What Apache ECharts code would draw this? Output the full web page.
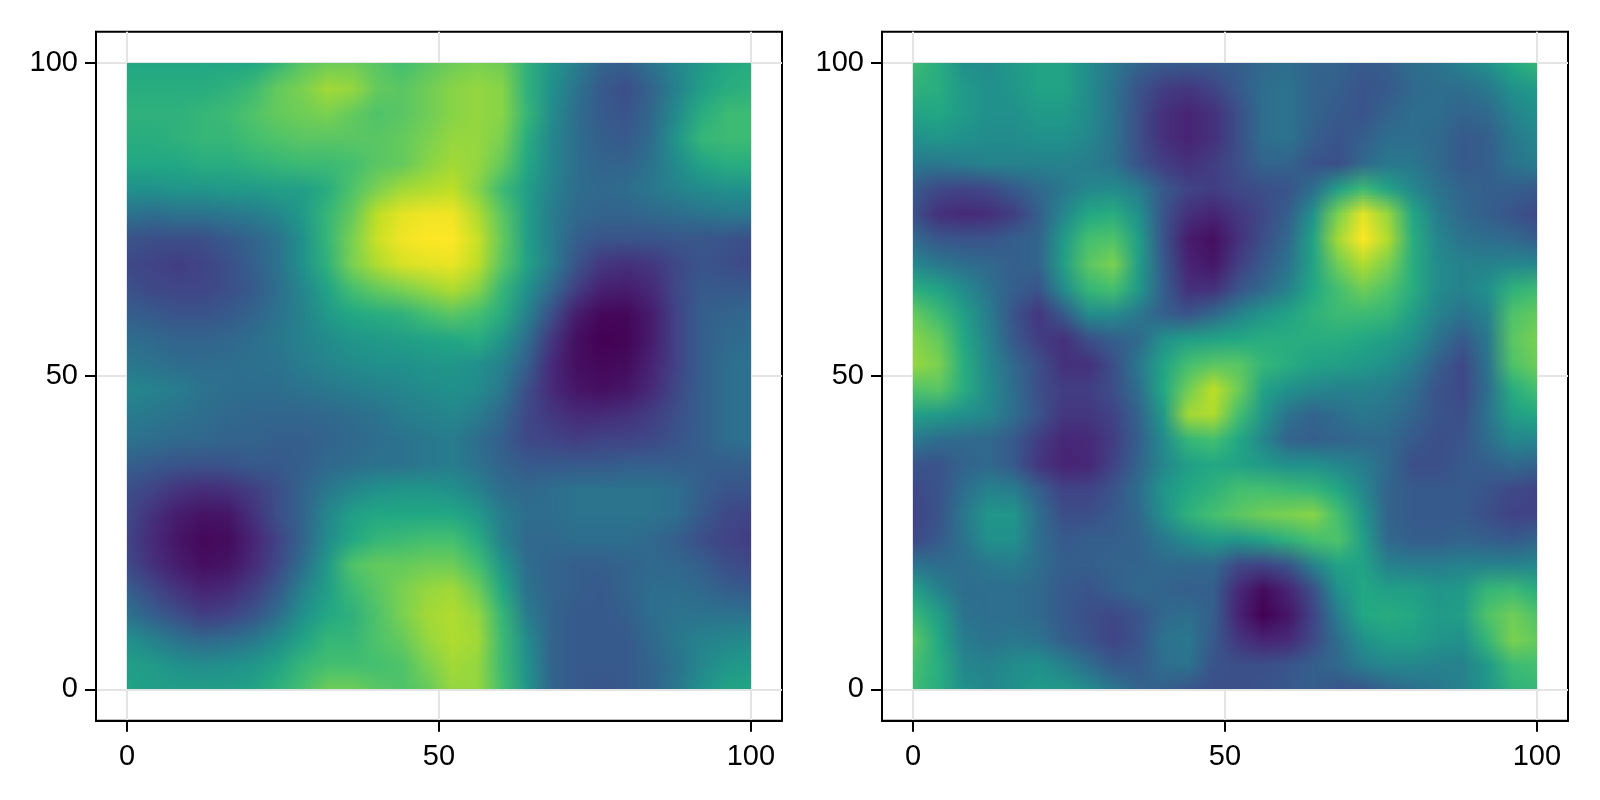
<!DOCTYPE html>
<html><head><meta charset="utf-8">
<style>html,body{margin:0;padding:0;background:#fff}#c{width:1600px;height:800px}</style>
<script src="https://cdn.jsdelivr.net/npm/echarts@6/dist/echarts.min.js"></script>
</head><body><div id="c"></div>
<script>
const xVals=[0,4,8,12,16,20,24,28,32,36,40,44,48,52,56,60,64,68,72,76,80,84,88,92,96,100];
const yVals=[100,96,92,88,84,80,76,72,68,64,60,56,52,48,44,40,36,32,28,24,20,16,12,8,4,0];
const tickValues=[0,50,100];
const viridis=['#440154','#482475','#414487','#355f8d','#2a788e','#21918c','#22a884','#44bf70','#7ad151','#bddf26','#fde725'];
const leftRows=[
[60,60,60,60,60,60,66,74,78,78,74,70,74,78,80,78,64,52,42,32,30,38,46,54,60,62],
[62,62,62,62,64,68,76,80,86,84,76,74,78,82,84,82,64,50,38,28,24,32,44,56,62,64],
[64,64,64,66,68,72,76,78,80,76,72,74,78,82,84,82,66,48,36,28,26,34,48,62,68,68],
[62,62,64,66,66,70,72,74,74,74,74,76,80,84,84,80,62,46,36,30,28,36,52,66,68,68],
[60,60,60,62,62,64,66,68,68,70,74,76,82,86,84,76,60,46,36,32,32,38,48,58,62,62],
[50,50,52,52,54,54,56,56,62,72,80,86,88,90,82,68,56,44,36,34,36,40,44,48,50,50],
[38,36,38,38,40,42,46,54,66,76,90,96,98,98,88,74,56,42,34,32,32,34,36,38,40,40],
[26,24,24,24,28,32,38,50,66,80,92,98,100,100,92,76,56,42,30,26,26,26,27,27,26,24],
[22,20,18,20,24,30,38,50,64,80,88,94,96,97,90,74,58,42,26,16,14,16,22,26,24,22],
[25,22,21,21,24,28,36,46,58,70,76,80,84,88,82,66,50,34,18,9,8,12,22,28,28,28],
[30,28,26,26,28,32,38,44,54,60,62,64,70,74,70,62,44,24,8,2,2,8,20,30,32,34],
[36,34,32,32,33,36,40,44,48,52,54,56,58,60,62,52,36,16,4,0,1,8,20,30,34,36],
[40,38,36,35,36,37,38,42,45,48,50,50,52,52,50,44,30,12,4,2,3,10,20,30,36,38],
[46,44,42,38,36,36,36,38,40,42,44,46,48,50,48,40,24,12,6,4,6,12,22,30,36,38],
[42,40,38,36,34,33,33,33,34,36,38,42,44,46,42,34,22,16,12,12,14,18,24,30,36,38],
[38,36,34,34,32,32,30,30,32,34,36,38,40,42,36,30,22,20,18,20,20,22,26,30,36,38],
[30,28,26,25,26,28,28,30,34,36,38,38,40,42,38,32,28,28,28,28,30,30,30,30,30,30],
[24,20,15,13,14,18,24,32,40,46,50,52,52,50,44,36,34,36,38,38,38,38,36,30,26,26],
[22,14,8,5,6,14,24,32,46,56,60,60,60,60,54,42,36,36,38,38,38,38,36,28,22,20],
[20,12,6,2,3,10,20,32,48,60,66,68,70,70,62,44,34,34,36,36,36,34,30,24,20,18],
[22,14,8,4,5,12,22,36,54,72,76,76,78,78,70,52,36,32,30,30,32,34,33,30,24,22],
[30,22,15,10,12,18,28,44,56,68,74,80,84,86,78,60,38,32,30,28,32,36,36,34,30,28],
[38,30,24,18,20,26,36,50,60,64,72,80,86,88,84,66,42,32,28,28,30,36,38,38,38,38],
[50,44,38,34,36,40,48,58,66,66,72,76,84,88,86,68,48,32,28,28,28,34,40,44,46,48],
[56,54,50,48,50,52,58,66,70,70,70,72,80,86,84,68,50,32,28,28,28,32,38,46,52,54],
[58,56,56,56,56,58,64,70,78,78,74,72,76,84,84,70,52,32,28,26,28,32,40,50,58,60]
];
const rightRows=[
[68,62,50,48,54,58,58,48,40,32,28,28,28,30,34,36,32,32,28,30,36,38,44,50,60,66],
[64,62,54,50,52,58,58,48,38,26,18,16,20,28,36,38,32,30,26,28,34,36,36,40,50,54],
[58,60,54,50,50,54,54,48,38,24,14,10,14,24,36,38,32,28,26,32,36,36,32,34,44,50],
[50,52,50,48,48,50,50,46,38,24,14,10,14,24,36,38,30,26,30,36,36,34,28,30,40,46],
[40,40,42,44,44,44,44,42,38,26,18,14,18,24,32,32,26,24,34,40,40,34,28,30,38,42],
[28,22,20,22,28,34,40,46,48,42,28,20,18,22,24,26,36,56,68,58,46,38,32,30,30,28],
[24,14,12,13,18,30,46,60,62,50,26,14,10,16,22,30,50,80,96,84,60,42,34,30,26,22],
[34,27,26,26,30,32,54,70,72,56,26,8,4,14,24,34,58,86,100,88,62,46,38,36,34,30],
[46,40,36,34,30,32,56,74,80,56,28,10,6,18,28,38,58,78,88,80,62,48,44,44,46,46],
[62,58,48,38,30,26,48,66,70,54,30,14,14,26,34,44,60,70,78,72,62,48,44,50,64,68],
[76,68,56,42,26,16,28,48,48,40,30,26,34,44,52,58,64,68,68,66,56,44,38,44,72,76],
[82,76,60,44,28,18,14,24,30,34,50,56,58,60,62,62,62,62,60,56,50,38,28,40,74,80],
[84,80,62,46,34,24,14,14,24,40,58,70,74,74,66,62,58,56,54,50,42,30,22,38,72,78],
[72,74,62,48,36,24,18,18,24,36,60,78,90,78,58,50,46,44,44,42,36,26,22,36,62,70],
[56,54,50,46,36,26,16,16,20,32,54,86,88,70,52,38,32,36,40,38,32,26,24,38,56,60],
[40,36,34,34,28,18,11,12,18,30,48,66,70,60,46,32,30,32,34,34,28,24,26,36,46,46],
[26,26,32,34,28,16,10,11,20,32,46,56,60,58,54,50,50,46,42,34,24,24,28,30,34,32],
[22,26,36,44,42,30,20,20,26,36,52,60,64,70,70,68,66,60,46,32,28,28,28,26,22,20],
[20,26,40,52,52,36,24,24,28,34,50,64,70,74,78,80,82,70,52,32,28,28,28,24,20,20],
[22,28,38,50,50,36,28,30,30,32,40,48,54,52,58,64,70,72,56,34,30,30,32,30,28,32],
[38,36,36,40,42,36,30,30,32,32,34,34,34,22,20,26,44,58,58,44,42,42,44,44,44,46],
[56,44,36,36,36,34,28,26,30,34,32,30,30,12,3,10,24,50,60,56,56,52,54,66,68,62],
[66,56,38,36,36,34,28,24,22,26,34,36,30,10,0,6,20,42,60,62,60,54,56,72,78,72],
[74,60,42,38,40,38,30,26,20,26,38,40,28,16,10,12,22,36,50,56,56,52,50,66,80,76],
[70,62,46,44,48,50,44,36,28,28,36,38,26,24,24,26,30,34,42,46,46,44,44,54,68,70],
[68,62,50,46,50,54,54,48,40,32,30,26,24,24,26,28,30,26,26,32,36,40,44,52,64,66]
];
function toCells(rows){
  const out=[];
  rows.forEach((r,j)=>r.forEach((v,i)=>out.push([xVals[i],yVals[j],v])));
  return out;
}
// One small raster per panel: each data cell paints one pixel with its mapped colour,
// and the browser's image smoothing blends them when the raster is placed on the axes.
const rasters={};
function rasterFor(seriesIndex){
  if(!rasters[seriesIndex]){
    const cv=document.createElement('canvas');
    cv.width=xVals.length;cv.height=yVals.length;
    rasters[seriesIndex]=cv;
  }
  return rasters[seriesIndex];
}
function renderCell(params,api){
  const color=api.visual('color');
  const cv=rasterFor(params.seriesIndex),ctx=cv.getContext('2d');
  const n=xVals.length,m=yVals.length;
  const i=params.dataIndex%n,j=Math.floor(params.dataIndex/n);
  ctx.fillStyle=color;ctx.fillRect(i,j,1,1);
  if(params.dataIndex!==n*m-1) return null;
  const tl=api.coord([xVals[0],yVals[0]]);
  const br=api.coord([xVals[n-1],yVals[m-1]]);
  return {type:'image',style:{image:cv,x:tl[0],y:tl[1],width:br[0]-tl[0],height:br[1]-tl[1],
    sx:0.5,sy:0.5,sWidth:n-1,sHeight:m-1}};
}
function axis(gridIndex,margin){
  return {type:'value',gridIndex,min:-5,max:105,
    axisLine:{show:true,onZero:false,lineStyle:{color:'#000',width:2}},
    axisTick:{show:true,customValues:tickValues,length:11,lineStyle:{color:'#000',width:2}},
    axisLabel:{show:true,customValues:tickValues,fontFamily:'Liberation Sans',fontSize:29,color:'#000',margin},
    splitLine:{show:true,lineStyle:{color:'#e4e4e4',width:2}}};
}
const grids=[
 {left:96,top:31.7,width:686,height:689,show:true,borderColor:'#000',borderWidth:2,backgroundColor:'transparent'},
 {left:882,top:31.7,width:686,height:689,show:true,borderColor:'#000',borderWidth:2,backgroundColor:'transparent'}
];
const chart=echarts.init(document.getElementById('c'),null,{renderer:'canvas'});
chart.setOption({
 animation:false,backgroundColor:'#fff',
 grid:grids,
 xAxis:[axis(0,22),axis(1,22)],
 yAxis:[axis(0,18),axis(1,18)],
 visualMap:{show:false,min:0,max:100,dimension:2,seriesIndex:[0,1],inRange:{color:viridis}},
 series:[
  {type:'custom',xAxisIndex:0,yAxisIndex:0,encode:{x:0,y:1},data:toCells(leftRows),renderItem:renderCell,silent:true,clip:true},
  {type:'custom',xAxisIndex:1,yAxisIndex:1,encode:{x:0,y:1},data:toCells(rightRows),renderItem:renderCell,silent:true,clip:true}
 ]
});
</script></body></html>
